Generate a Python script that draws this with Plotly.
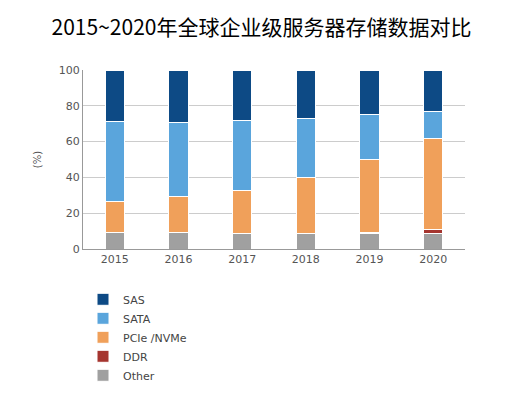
import plotly.graph_objects as go

years = ['2015', '2016', '2017', '2018', '2019', '2020']
other = [9.5, 9.0, 8.7, 8.5, 8.5, 8.5]
ddr = [0, 0, 0, 0, 1.0, 2.5]
pcie = [17.0, 20.5, 24.1, 31.5, 40.5, 51.0]
sata = [44.5, 41.0, 38.8, 33.0, 25.0, 14.7]
sas = [29.0, 29.5, 28.4, 27.0, 25.0, 23.3]

fig = go.Figure()
for name, vals, color in [('Other', other, '#a0a0a0'), ('DDR', ddr, '#a5352f'),
                          ('PCIe /NVMe', pcie, '#f0a05a'), ('SATA', sata, '#5aa5dc'),
                          ('SAS', sas, '#0d4a85')]:
    fig.add_bar(x=years, y=vals, name=name, marker=dict(color=color, line=dict(color='white', width=1)))

fig.update_layout(
    barmode='stack', bargap=0.7,
    width=507, height=406,
    title=dict(text='2015~2020年全球企业级服务器存储数据对比', x=0.5, y=0.97,
               font=dict(family='Noto Sans CJK SC', size=21, color='black')),
    font=dict(family='DejaVu Sans', size=11, color='#555'),
    paper_bgcolor='white', plot_bgcolor='white',
    margin=dict(l=75, r=50, t=62, b=165),
    legend=dict(orientation='v', x=0.0, y=-0.2, xanchor='left', yanchor='top',
                traceorder='reversed', font=dict(size=11, color='#444')),
    yaxis=dict(range=[0, 100], dtick=20, showgrid=True, gridcolor='#ccc',
               showline=True, linecolor='#999', title=dict(text='(%)', font=dict(size=10))),
    xaxis=dict(showline=True, linecolor='#999'),
)
fig.write_html('out.html')
